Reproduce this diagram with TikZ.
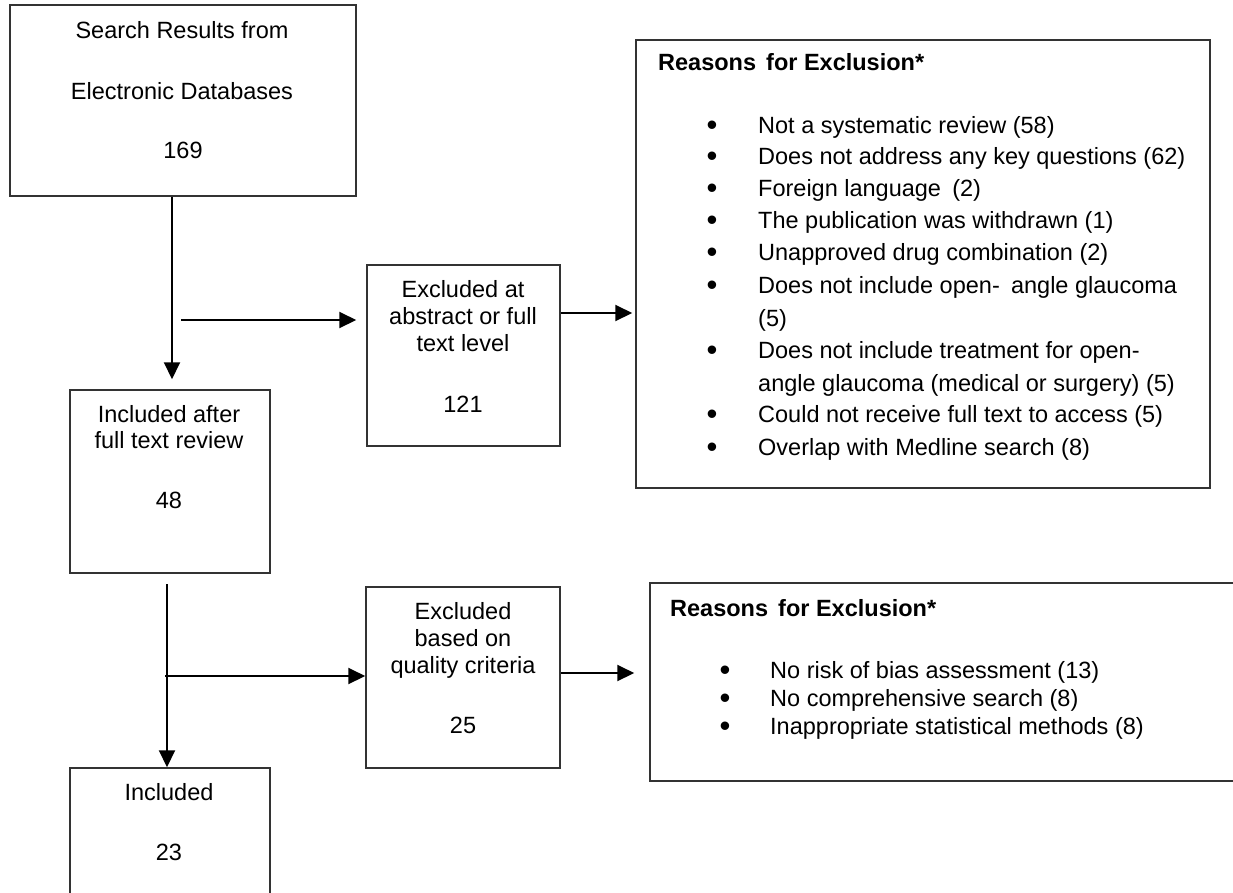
\documentclass[tikz,border=0pt]{standalone}
\usepackage{fontspec}
\setmainfont{Liberation Sans}
\usetikzlibrary{arrows.meta}
\tikzset{
  box/.style={draw=black!80, line width=1.5pt, rectangle, inner sep=0pt},
  arr/.style={draw=black, line width=2pt, -{Triangle[length=17pt,width=16pt]}},
  txt/.style={inner sep=0pt, anchor=base, font=\fontsize{23.5}{27}\selectfont},
  ltxt/.style={txt, anchor=base west},
  ttl/.style={ltxt, font=\fontsize{23.5}{27}\selectfont\bfseries},
  bul/.style={inner sep=0pt, anchor=center, font=\fontsize{31}{31}\selectfont},
}
\begin{document}
\begin{tikzpicture}[x=1pt,y=-1pt]
\useasboundingbox (0,0) rectangle (1233,892);
\clip (0,0) rectangle (1233,892);
\fill[white] (0,0) rectangle (1233,892);

% boxes
\node[box, minimum width=346pt, minimum height=191pt] (b1) at (183,100.5) {};
\node[box, minimum width=200pt, minimum height=183pt] (b2) at (170,481.5) {};
\node[box, minimum width=193pt, minimum height=181pt] (b3) at (463.5,355.5) {};
\node[box, minimum width=574pt, minimum height=448pt] (b4) at (923,264) {};
\node[box, minimum width=200pt, minimum height=137pt] (b5) at (170,836.5) {};
\node[box, minimum width=194pt, minimum height=181pt] (b6) at (463,677.5) {};
\node[box, minimum width=595pt, minimum height=198pt] (b7) at (947.5,682) {};

% box 1 text
\node[txt] (t1a) at (182,38) {Search Results from};
\node[txt] (t1b) at (182,99) {Electronic Databases};
\node[txt] (t1c) at (183,158) {169};

% box 3 text
\node[txt] (t3a) at (463,297) {Excluded at};
\node[txt] (t3b) at (463,324) {abstract or full};
\node[txt] (t3c) at (463,351) {text level};
\node[txt] (t3d) at (463,412) {121};

% box 2 text
\node[txt] (t2a) at (169,422) {Included after};
\node[txt] (t2b) at (169,448) {full text review};
\node[txt] (t2c) at (169,508) {48};

% box 6 text
\node[txt] (t6a) at (463,619) {Excluded};
\node[txt] (t6b) at (463,646) {based on};
\node[txt] (t6c) at (463,673) {quality criteria};
\node[txt] (t6d) at (463,733) {25};

% box 5 text
\node[txt] (t5a) at (169,800) {Included};
\node[txt] (t5b) at (169,860) {23};

% box 4 text
\node[ttl] (t4h) at (658,70) {Reasons\hspace{0.15em} for Exclusion*};
\foreach \y/\n in {133/1,164/2,196/3,228/4,260/5,293/6,358/7,422/8,455/9}{
  \node[bul] (bu4\n) at (712,\y-4.5) {\textbullet};
}
\node[ltxt] (i41) at (758,133) {Not a systematic review (58)};
\node[ltxt] (i42) at (758,164) {Does not address any key questions (62)};
\node[ltxt] (i43) at (758,196) {Foreign language\hspace{0.2em} (2)};
\node[ltxt] (i44) at (758,228) {The publication was withdrawn (1)};
\node[ltxt] (i45) at (758,260) {Unapproved drug combination (2)};
\node[ltxt] (i46) at (758,293) {Does not include open-\hspace{0.2em} angle glaucoma};
\node[ltxt] (i46b) at (758,326) {(5)};
\node[ltxt] (i47) at (758,358) {Does not include treatment for open-};
\node[ltxt] (i47b) at (758,391) {angle glaucoma (medical or surgery) (5)};
\node[ltxt] (i48) at (758,422) {Could not receive full text to access (5)};
\node[ltxt] (i49) at (758,455) {Overlap with Medline search (8)};

% box 7 text
\node[ttl] (t7h) at (670,616) {Reasons\hspace{0.15em} for Exclusion*};
\foreach \y/\n in {678/1,706/2,734/3}{
  \node[bul] (bu7\n) at (725,\y-4.5) {\textbullet};
}
\node[ltxt] (i71) at (770,678) {No risk of bias assessment (13)};
\node[ltxt] (i72) at (770,706) {No comprehensive search (8)};
\node[ltxt] (i73) at (770,734) {Inappropriate statistical methods (8)};

% connectors
\coordinate (v1) at (172,0);
\draw[arr, shorten >=10pt] (v1 |- b1.south) -- (v1 |- b2.north);
\coordinate (h1) at (181,320);
\draw[arr, shorten >=10pt] (h1) -- (h1 -| b3.west);
\coordinate (r1) at (0,313);
\draw[arr, shorten >=3pt] (r1 -| b3.east) -- (r1 -| b4.west);
\coordinate (v2) at (167,584);
\draw[arr] (v2) -- (v2 |- b5.north);
\coordinate (h2) at (165,676);
\draw[arr] (h2) -- (h2 -| b6.west);
\coordinate (r2) at (0,673);
\draw[arr, shorten >=15pt] (r2 -| b6.east) -- (r2 -| b7.west);
\end{tikzpicture}
\end{document}
